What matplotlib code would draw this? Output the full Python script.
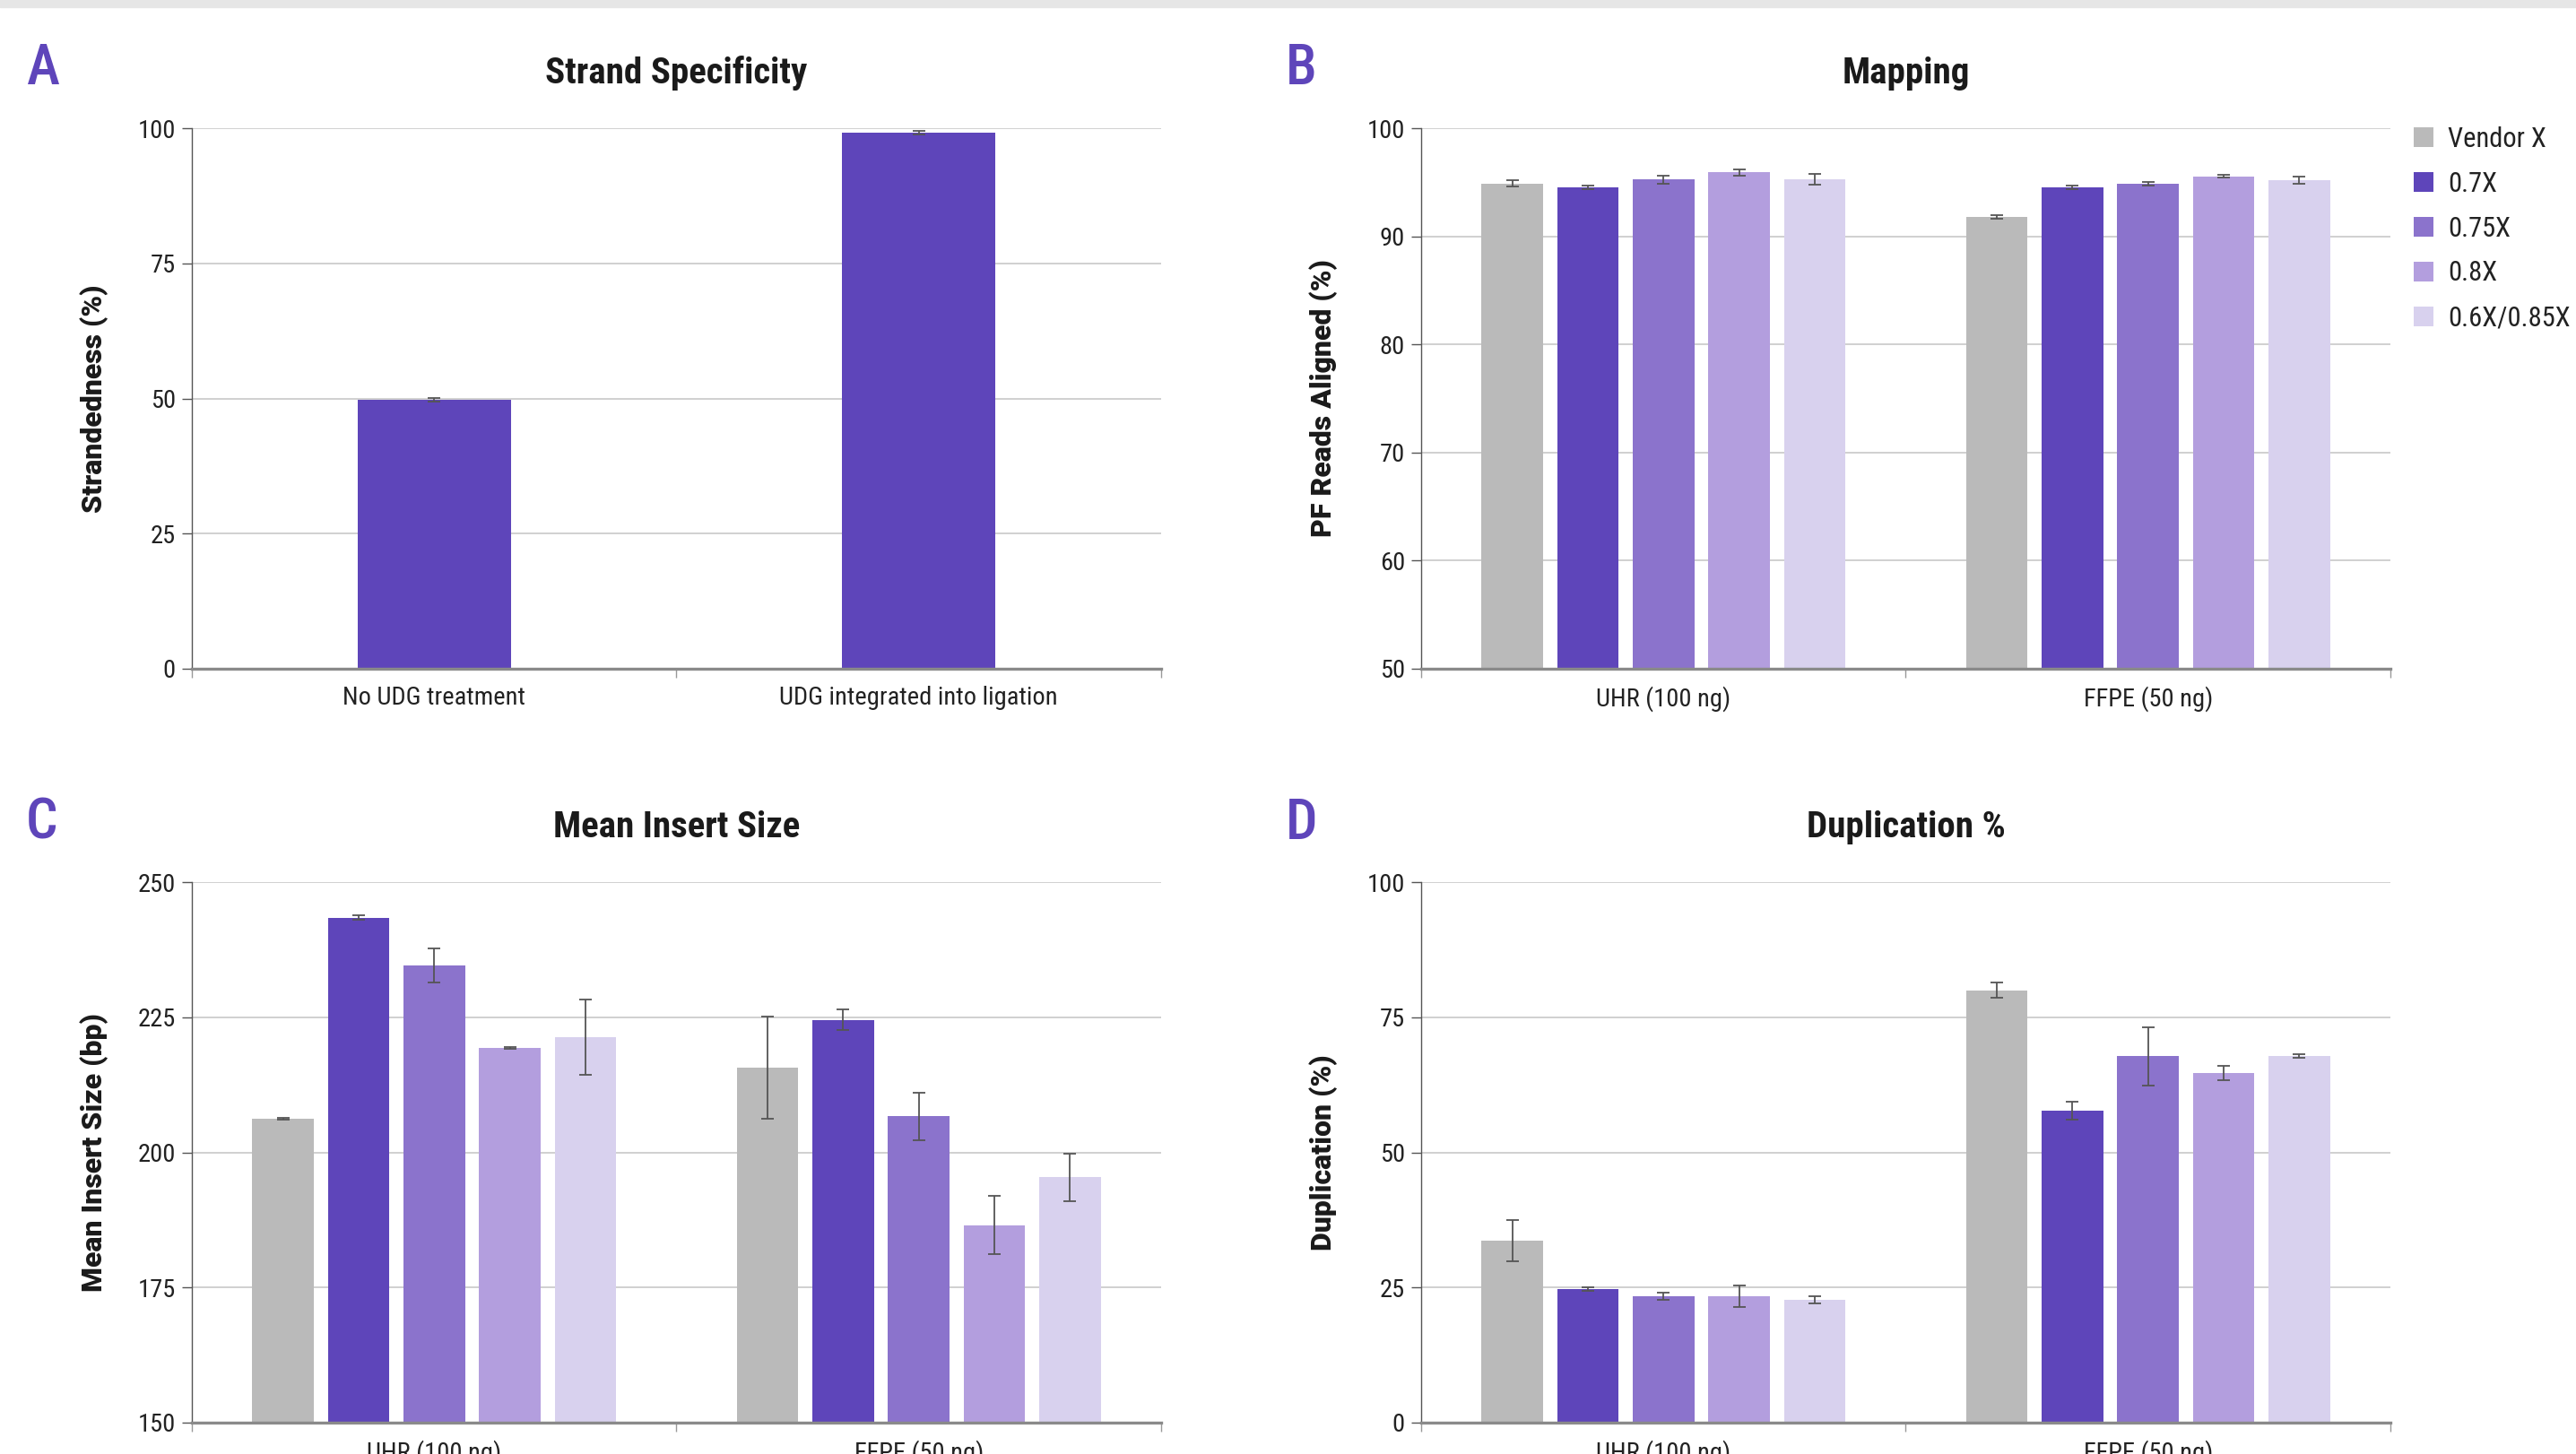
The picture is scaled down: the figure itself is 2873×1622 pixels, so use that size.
import matplotlib
matplotlib.use('Agg')
import matplotlib.pyplot as plt
from matplotlib import font_manager
from matplotlib.lines import Line2D
from matplotlib.patches import Rectangle
import numpy as np

# pick a narrow font if one is installed, else plain Roboto
installed = {f.name for f in font_manager.fontManager.ttflist}
narrow = next((n for n in ['Roboto Condensed', 'Liberation Sans Narrow', 'Roboto']
               if n in installed), 'DejaVu Sans')

# ---- data ----
series = ['Vendor X', '0.7X', '0.75X', '0.8X', '0.6X/0.85X']
colors = ['#bababa', '#5e45ba', '#8b73cc', '#b39ede', '#d8d1ee']
groups = ['UHR (100 ng)', 'FFPE (50 ng)']

strand_labels = ['No UDG treatment', 'UDG integrated into ligation']
strand_vals = [49.8, 99.2]
strand_err = [0.3, 0.3]

mapping_uhr = [94.9, 94.55, 95.25, 95.9, 95.25]
mapping_uhr_err = [0.3, 0.15, 0.35, 0.3, 0.5]
mapping_ffpe = [91.8, 94.55, 94.85, 95.55, 95.2]
mapping_ffpe_err = [0.15, 0.15, 0.15, 0.12, 0.3]

insert_uhr = [206.2, 243.4, 234.6, 219.3, 221.3]
insert_uhr_err = [0.2, 0.4, 3.2, 0.15, 7.0]
insert_ffpe = [215.7, 224.5, 206.7, 186.5, 195.4]
insert_ffpe_err = [9.5, 1.9, 4.4, 5.4, 4.4]

dup_uhr = [33.7, 24.7, 23.4, 23.4, 22.7]
dup_uhr_err = [3.8, 0.4, 0.6, 2.0, 0.6]
dup_ffpe = [80.0, 57.7, 67.8, 64.7, 67.8]
dup_ffpe_err = [1.4, 1.65, 5.4, 1.3, 0.35]

accent = '#5e45ba'
err_kw = dict(ecolor='#555555', elinewidth=1.3, capthick=1.3, capsize=5)
tick_size = 20.5

fig = plt.figure(figsize=(28.73, 16.22), dpi=100)
fig.patch.set_facecolor('white')
# thin grey band along the top edge
fig.patches.append(Rectangle((0, 1 - 8 / 1622), 1, 8 / 1622, transform=fig.transFigure,
                             color='#e6e6e6', zorder=0))

W, H = 0.3762, 0.3717
ax_a = fig.add_axes([0.0745, 0.5401, W, H])
ax_b = fig.add_axes([0.5517, 0.5401, W, H])
ax_c = fig.add_axes([0.0745, 0.0216, W, H])
ax_d = fig.add_axes([0.5517, 0.0216, W, H])


def style_axes(ax, title, ylabel, ylim, yticks, xlabels):
    ax.set_xlim(-0.5, 1.5)
    ax.set_ylim(*ylim)
    ax.set_yticks(yticks)
    ax.set_xticks([0, 1])
    ax.set_xticklabels(xlabels, fontfamily=narrow, fontsize=tick_size, color='#222222')
    ax.set_xticks([-0.5, 0.5, 1.5], minor=True)
    ax.tick_params(axis='x', which='major', length=0, pad=14)
    ax.tick_params(axis='x', which='minor', length=7, width=1, color='#999999')
    ax.tick_params(axis='y', length=8, width=1, color='#555555', pad=5,
                   labelsize=tick_size, labelcolor='#222222')
    for lab in ax.get_yticklabels():
        lab.set_fontfamily(narrow)
    ax.grid(axis='y', color='#c8c8c8', lw=1.2)
    ax.set_axisbelow(True)
    ax.spines['top'].set_visible(False)
    ax.spines['right'].set_visible(False)
    ax.spines['left'].set_color('#555555')
    ax.spines['left'].set_linewidth(1)
    ax.spines['bottom'].set_color('#8a8a8a')
    ax.spines['bottom'].set_linewidth(2.4)
    ax.set_title(title, pad=35.7, fontsize=29.5, fontweight='bold', fontfamily=narrow,
                 color='#1a1a1a')
    ax.set_ylabel(ylabel, fontfamily='Roboto', fontweight='black', fontsize=23,
                  color='#1a1a1a')
    ax.yaxis.set_label_coords(-0.086, 0.5)


def grouped_bars(ax, uhr, uhr_err, ffpe, ffpe_err):
    x = np.arange(len(groups))
    for i, name in enumerate(series):
        off = (i - 2) * 0.156
        ax.bar(x + off, [uhr[i], ffpe[i]], width=0.127, color=colors[i],
               yerr=[uhr_err[i], ffpe_err[i]], error_kw=err_kw, label=name)


# A - strand specificity
ax_a.bar(np.arange(2), strand_vals, width=0.316, color=accent, yerr=strand_err, error_kw=err_kw)
style_axes(ax_a, 'Strand Specificity', 'Strandedness (%)', (0, 100), [0, 25, 50, 75, 100],
           strand_labels)

# B - mapping
grouped_bars(ax_b, mapping_uhr, mapping_uhr_err, mapping_ffpe, mapping_ffpe_err)
style_axes(ax_b, 'Mapping', 'PF Reads Aligned (%)', (50, 100), [50, 60, 70, 80, 90, 100], groups)

# C - insert size
grouped_bars(ax_c, insert_uhr, insert_uhr_err, insert_ffpe, insert_ffpe_err)
style_axes(ax_c, 'Mean Insert Size', 'Mean Insert Size (bp)', (150, 250),
           [150, 175, 200, 225, 250], groups)

# D - duplication
grouped_bars(ax_d, dup_uhr, dup_uhr_err, dup_ffpe, dup_ffpe_err)
style_axes(ax_d, 'Duplication %', 'Duplication (%)', (0, 100), [0, 25, 50, 75, 100], groups)

# panel letters
for letter, x, y in [('A', 0.0101, 0.942), ('B', 0.4992, 0.942),
                     ('C', 0.0101, 0.4230), ('D', 0.4992, 0.4230)]:
    fig.text(x, y, letter, color=accent, fontsize=45, fontweight='medium', fontfamily=narrow,
             va='baseline')

# legend to the right of panel B
handles = [Line2D([], [], marker='s', ls='none', markersize=16.5, color=c, markeredgewidth=0)
           for c in colors]
fig.legend(handles, series, loc='upper left', bbox_to_anchor=(0.937, 0.913), frameon=False,
           prop={'family': narrow, 'size': 22}, labelcolor='#222222', handlelength=0.75,
           handletextpad=0.5, labelspacing=0.68, borderpad=0, borderaxespad=0)

fig.savefig('out.png', dpi=100)
